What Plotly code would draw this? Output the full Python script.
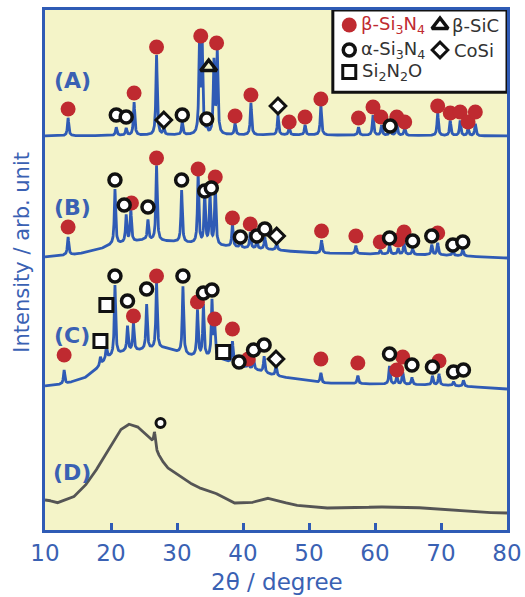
import numpy as np
import plotly.graph_objects as go

# ---------------- data (2theta in degree, intensity in arb. unit) ----------------
two_theta = np.arange(10.0, 80.0001, 0.02)

# (A)
A_base_x = [10, 30, 50, 80]
A_base_y = [394, 395, 395, 394]
A_peak_x = [13.5, 20.8, 22.3, 23.5, 26.9, 28.0, 30.8, 33.4, 33.8, 34.5, 35.6, 36.1, 38.8, 41.2,
            45.3, 47.0, 49.4, 51.8, 57.5, 59.7, 61.0, 62.3, 63.3, 64.5, 69.5, 71.4, 72.9, 74.1, 75.2]
A_peak_h = [18, 8, 7, 33, 80, 7, 13, 85, 93, 5, 72, 82, 12, 32,
            20, 8, 10, 30, 8, 20, 10, 8, 12, 8, 23, 15, 15, 8, 12]

# (B)
B_base_x = [10, 15, 18, 20, 25, 30, 35, 40, 45, 50, 60, 70, 80]
B_base_y = [273, 276, 280, 285, 290, 288, 285, 282, 280, 277, 276, 275, 272]
B_peak_x = [13.5, 20.6, 22.3, 23.0, 25.6, 26.9, 30.7, 33.2, 34.2, 35.0, 35.8, 38.4, 39.6, 41.1,
            42.1, 43.3, 45.1, 51.9, 57.1, 60.8, 62.2, 63.5, 64.4, 65.7, 68.6, 69.5, 71.8, 73.3]
B_peak_h = [18, 55, 27, 32, 20, 75, 52, 70, 50, 50, 60, 23, 6, 16,
            8, 12, 7, 13, 8, 4, 9, 6, 11, 6, 10, 12, 5, 7]

# (C)
C_base_x = [10, 13, 16, 18, 19.5, 22, 25, 28, 30, 32, 35, 37, 39, 42, 45, 48, 52, 60, 70, 80]
C_base_y = [144, 146, 152, 162, 172, 178, 180, 182, 178, 174, 172, 170, 165, 160, 154, 151, 147, 146, 145, 141]
C_peak_x = [12.9, 18.4, 19.3, 20.6, 22.5, 23.4, 25.4, 26.9, 30.9, 33.1, 34.0, 35.3, 35.7, 38.4,
            39.4, 40.8, 41.6, 43.2, 45.0, 51.8, 57.4, 62.2, 63.3, 64.2, 65.6, 68.7, 69.7, 71.9, 73.4]
C_peak_h = [14, 8, 12, 70, 25, 28, 45, 66, 67, 46, 52, 56, 33, 22,
            5, 5, 10, 16, 11, 10, 8, 18, 8, 12, 7, 9, 11, 4, 6]

# (D)
D_base_x = [10, 10.5, 11.8, 14.3, 15.8, 17.3, 19.3, 21.4, 22.6, 23.9, 24.9, 26.0, 26.5, 27.0, 27.4,
            28.4, 30.5, 33.0, 35.5, 38.5, 41.1, 43.6, 45.1, 47.6, 52.1, 57.2, 59.7, 64.8, 69.8, 74.9, 79.4, 80]
D_base_y = [30, 30, 27, 33, 42, 55, 77, 100, 106, 104, 98, 90, 88, 78, 73,
            63, 53, 43, 38, 27, 27, 32, 30, 25, 22, 22, 23, 23, 21, 18, 17, 17]
D_peak_x = [26.6]
D_peak_h = [12]

# phase markers
beta_x = [13.5, 23.5, 26.9, 33.6, 36.0, 38.8, 41.2, 47.0, 49.4, 51.8, 57.5, 59.7, 60.9, 63.3, 64.5, 69.5, 71.4, 72.9, 74.1, 75.2,
          13.5, 23.1, 26.9, 33.2, 35.8, 38.4, 41.1, 51.9, 57.1, 60.8, 63.5, 64.4, 69.5,
          12.9, 23.4, 26.9, 33.1, 35.7, 38.4, 40.8, 51.8, 57.4, 63.3, 64.2, 69.7]
beta_y = [421, 437, 483, 494, 487, 414, 435, 408, 413, 431, 412, 423, 413, 413, 408, 424, 417, 418, 408, 418,
          303, 327, 372, 361, 353, 312, 306, 299, 294, 288, 290, 298, 297,
          175, 214, 254, 228, 211, 201, 171, 171, 167, 160, 173, 169]
alpha_x = [20.8, 22.3, 30.8, 34.5, 62.3,
           20.6, 22.0, 25.6, 30.7, 34.2, 35.2, 39.6, 42.1, 43.3, 62.2, 65.7, 68.6, 71.8, 73.3,
           20.6, 22.5, 25.4, 30.9, 34.0, 35.3, 39.4, 41.6, 43.2, 62.2, 65.6, 68.7, 71.9, 73.4]
alpha_y = [415, 413, 415, 411, 404,
           350, 325, 323, 350, 339, 342, 293, 294, 301, 292, 289, 294, 285, 288,
           254, 229, 241, 254, 237, 240, 168, 180, 185, 176, 165, 163, 158, 160]
alphaD_x = [27.5]
alphaD_y = [107]
cosi_x = [28.0, 45.3, 45.1, 45.0]
cosi_y = [410, 424, 294, 171]
sic_x = [34.8]
sic_y = [463]
si2n2o_x = [18.4, 19.3, 37.0]
si2n2o_y = [189, 225, 178]

pattern_labels = ["(A)", "(B)", "(C)", "(D)"]
label_y = [450, 323, 195, 58]

# ---------------- styles ----------------
BLUE = "#2F5BB5"
TXT = "#3A61B3"
RED = "#BF2A30"
BG = "#F4F4C8"


def profile(bx, by, px, ph, hwhm=0.12):
    y = np.interp(two_theta, bx, by)
    for p, h in zip(px, ph):
        y = y + h / (1.0 + ((two_theta - p) / hwhm) ** 2)
    return y


fig = go.Figure()
for bx, by, px, ph, col in [
    (A_base_x, A_base_y, A_peak_x, A_peak_h, BLUE),
    (B_base_x, B_base_y, B_peak_x, B_peak_h, BLUE),
    (C_base_x, C_base_y, C_peak_x, C_peak_h, BLUE),
    (D_base_x, D_base_y, D_peak_x, D_peak_h, "#555555"),
]:
    fig.add_trace(go.Scatter(x=two_theta, y=profile(bx, by, px, ph), mode="lines",
                             line=dict(color=col, width=2.8), hoverinfo="skip"))

fig.add_trace(go.Scatter(x=beta_x, y=beta_y, mode="markers",
                         marker=dict(symbol="circle", size=15, color=RED, line=dict(width=0))))
fig.add_trace(go.Scatter(x=alpha_x, y=alpha_y, mode="markers",
                         marker=dict(symbol="circle", size=12, color="white", line=dict(color="#111", width=3.5))))
fig.add_trace(go.Scatter(x=alphaD_x, y=alphaD_y, mode="markers",
                         marker=dict(symbol="circle", size=9, color="white", line=dict(color="#111", width=3))))
fig.add_trace(go.Scatter(x=cosi_x, y=cosi_y, mode="markers",
                         marker=dict(symbol="diamond", size=12, color="white", line=dict(color="#111", width=3))))
fig.add_trace(go.Scatter(x=si2n2o_x, y=si2n2o_y, mode="markers",
                         marker=dict(symbol="square", size=13, color="white", line=dict(color="#111", width=3))))
fig.add_trace(go.Scatter(x=sic_x, y=sic_y, mode="markers",
                         marker=dict(symbol="triangle-up-open", size=14, color="#111", line=dict(color="#111", width=3.5))))

# legend (box + symbols + text)
fig.add_shape(type="rect", xref="paper", yref="paper", x0=0.623, x1=1.0, y0=0.842, y1=1.0,
              fillcolor="white", line=dict(color="#111", width=3), layer="below")
fig.add_trace(go.Scatter(x=[56.1], y=[505], mode="markers", cliponaxis=False,
                         marker=dict(symbol="circle", size=15, color=RED)))
fig.add_trace(go.Scatter(x=[56.1], y=[480], mode="markers", cliponaxis=False,
                         marker=dict(symbol="circle", size=12, color="white", line=dict(color="#111", width=3.5))))
fig.add_trace(go.Scatter(x=[56.1], y=[458], mode="markers", cliponaxis=False,
                         marker=dict(symbol="square", size=13, color="white", line=dict(color="#111", width=3))))
fig.add_trace(go.Scatter(x=[69.85], y=[505], mode="markers", cliponaxis=False,
                         marker=dict(symbol="triangle-up-open", size=14, color="#111", line=dict(color="#111", width=3.5))))
fig.add_trace(go.Scatter(x=[69.85], y=[480], mode="markers", cliponaxis=False,
                         marker=dict(symbol="diamond", size=12, color="white", line=dict(color="#111", width=3))))

for txt, x, y, c in [("β-Si<sub>3</sub>N<sub>4</sub>", 57.6, 505, RED),
                     ("β-SiC", 71.4, 505, "#333333"),
                     ("α-Si<sub>3</sub>N<sub>4</sub>", 57.6, 480, "#333333"),
                     ("CoSi", 71.6, 480, "#333333"),
                     ("Si<sub>2</sub>N<sub>2</sub>O", 57.8, 458, "#333333")]:
    fig.add_annotation(x=x, y=y, text=txt, showarrow=False, xanchor="left", yanchor="middle",
                       font=dict(family="DejaVu Sans", size=18, color=c))

for lab, ly in zip(pattern_labels, label_y):
    fig.add_annotation(x=14.1, y=ly, text="<b>" + lab + "</b>", showarrow=False,
                       font=dict(family="DejaVu Sans", size=22, color=TXT))

fig.add_annotation(xref="paper", yref="paper", x=0.503, y=-0.1, text="2θ / degree", showarrow=False,
                   font=dict(family="DejaVu Sans", size=23, color=TXT), yanchor="middle")
fig.add_annotation(xref="paper", yref="paper", x=-0.05, y=0.535, text="Intensity / arb. unit",
                   textangle=-90, showarrow=False, xanchor="center",
                   font=dict(family="DejaVu Sans", size=21, color=TXT))

fig.update_layout(
    width=525, height=597, margin=dict(l=45, r=18, t=10, b=67, autoexpand=False),
    paper_bgcolor="white", plot_bgcolor=BG, showlegend=False,
    xaxis=dict(range=[10, 80], tickvals=[10, 20, 30, 40, 50, 60, 70, 80], ticks="inside", ticklen=7,
               tickwidth=3, tickcolor=BLUE, showline=True, linewidth=3, linecolor=BLUE, mirror=True,
               showgrid=False, zeroline=False, automargin=False,
               tickfont=dict(family="DejaVu Sans", size=23, color=TXT)),
    yaxis=dict(range=[0, 520], showticklabels=False, ticks="", showline=True, linewidth=3,
               linecolor=BLUE, mirror=True, showgrid=False, zeroline=False, automargin=False),
)

fig.write_html("out.html", config={"displayModeBar": False},
               post_script="document.body.style.margin='0px';document.body.style.overflow='hidden';")
